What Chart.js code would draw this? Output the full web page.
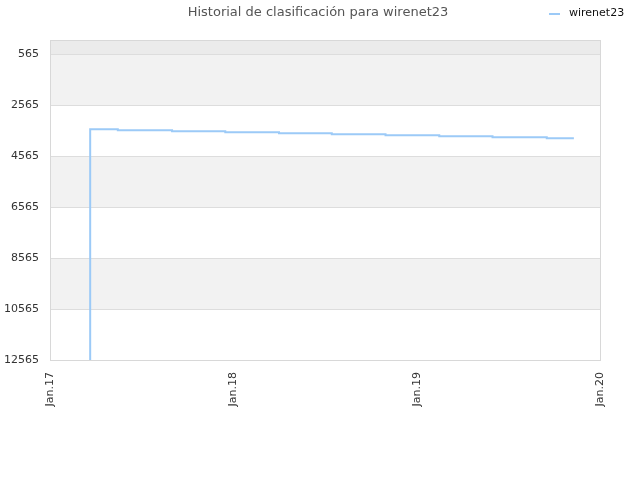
<!DOCTYPE html>
<html>
<head>
<meta charset="utf-8">
<script src="https://cdn.jsdelivr.net/npm/chart.js@4"></script>
<style>
  html, body { margin: 0; padding: 0; background: #fff; }
  #wrap { width: 640px; height: 480px; }
</style>
</head>
<body>
<div id="wrap"><canvas id="rankChart" width="640" height="480"></canvas></div>
<script>
const chartTitle = "Historial de clasificación para wirenet23";
const seriesName = "wirenet23";

// rank history (lower is better)
const dates = ["2017-03-21", "2017-03-22", "2017-05-16", "2017-09-01", "2017-12-16", "2018-04-02",
  "2018-07-16", "2018-10-31", "2019-02-15", "2019-06-01", "2019-09-17", "2019-11-10"];
const ranks = [12565, 3505, 3544, 3584, 3623, 3662, 3701, 3740, 3780, 3819, 3858, 3858];

const yTicks = [565, 2565, 4565, 6565, 8565, 10565, 12565];
const xTickDates = ["2017-01-01", "2018-01-01", "2019-01-01", "2020-01-01"];
const xTickLabels = ["Jan.17", "Jan.18", "Jan.19", "Jan.20"];

const toMs = (d) => Date.parse(d + "T00:00:00Z");
const FONT = "'DejaVu Sans', sans-serif";

// alternating bands behind the plot
const bands = {
  id: "bands",
  beforeDraw(chart) {
    const { ctx, chartArea: a, scales } = chart;
    const y = scales.y;
    const fills = [[0, 565, "#ebebeb"], [565, 2565, "#f2f2f2"], [4565, 6565, "#f2f2f2"], [8565, 10565, "#f2f2f2"]];
    ctx.save();
    fills.forEach(([from, to, c]) => {
      const p1 = y.getPixelForValue(from), p2 = y.getPixelForValue(to);
      ctx.fillStyle = c;
      ctx.fillRect(a.left, Math.min(p1, p2), a.right - a.left, Math.abs(p2 - p1));
    });
    ctx.restore();
  },
  afterDraw(chart) {
    const { ctx, chartArea: a } = chart;
    ctx.save();
    ctx.strokeStyle = "#d8d8d8";
    ctx.lineWidth = 1;
    ctx.strokeRect(a.left + 0.5, a.top + 0.5, a.right - a.left, a.bottom - a.top);
    // title
    ctx.fillStyle = "#555";
    ctx.font = "13px " + FONT;
    ctx.textAlign = "center";
    ctx.textBaseline = "middle";
    ctx.fillText(chartTitle, 318, 13);
    // legend
    ctx.strokeStyle = "#9ccaf7";
    ctx.lineWidth = 2;
    ctx.beginPath();
    ctx.moveTo(549, 14);
    ctx.lineTo(560, 14);
    ctx.stroke();
    ctx.fillStyle = "#111";
    ctx.font = "11px " + FONT;
    ctx.textAlign = "left";
    ctx.fillText(seriesName, 569, 13);
    ctx.restore();
  }
};

new Chart(document.getElementById("rankChart"), {
  type: "line",
  data: {
    datasets: [{
      label: seriesName,
      data: dates.map((d, i) => ({ x: toMs(d), y: ranks[i] })),
      borderColor: "#9ccaf7",
      borderWidth: 2,
      pointRadius: 0,
      stepped: true,
      fill: false,
    }],
  },
  options: {
    responsive: false,
    animation: false,
    layout: { padding: { top: 40, right: 40, left: 0, bottom: 0 } },
    plugins: {
      legend: { display: false },
      title: { display: false },
      tooltip: { enabled: false },
    },
    scales: {
      x: {
        type: "linear",
        min: toMs(xTickDates[0]),
        max: toMs(xTickDates[xTickDates.length - 1]),
        afterBuildTicks: (s) => { s.ticks = xTickDates.map((d) => ({ value: toMs(d) })); },
        afterFit: (s) => { s.height = 120; },
        grid: { display: false, drawTicks: false },
        border: { display: false },
        ticks: {
          minRotation: 90,
          maxRotation: 90,
          padding: 12,
          color: "#333",
          font: { family: FONT, size: 11 },
          callback: (v) => {
            const i = xTickDates.findIndex((d) => toMs(d) === v);
            return i >= 0 ? xTickLabels[i] : "";
          },
        },
      },
      y: {
        reverse: true,
        min: 0,
        max: 12565,
        afterBuildTicks: (s) => { s.ticks = yTicks.map((v) => ({ value: v })); },
        afterFit: (s) => { s.width = 50; },
        grid: { color: "#dddddd", drawTicks: false },
        border: { display: false },
        ticks: {
          padding: 11,
          color: "#333",
          font: { family: FONT, size: 11 },
          callback: (v) => String(v),
        },
      },
    },
  },
  plugins: [bands],
});
</script>
</body>
</html>
